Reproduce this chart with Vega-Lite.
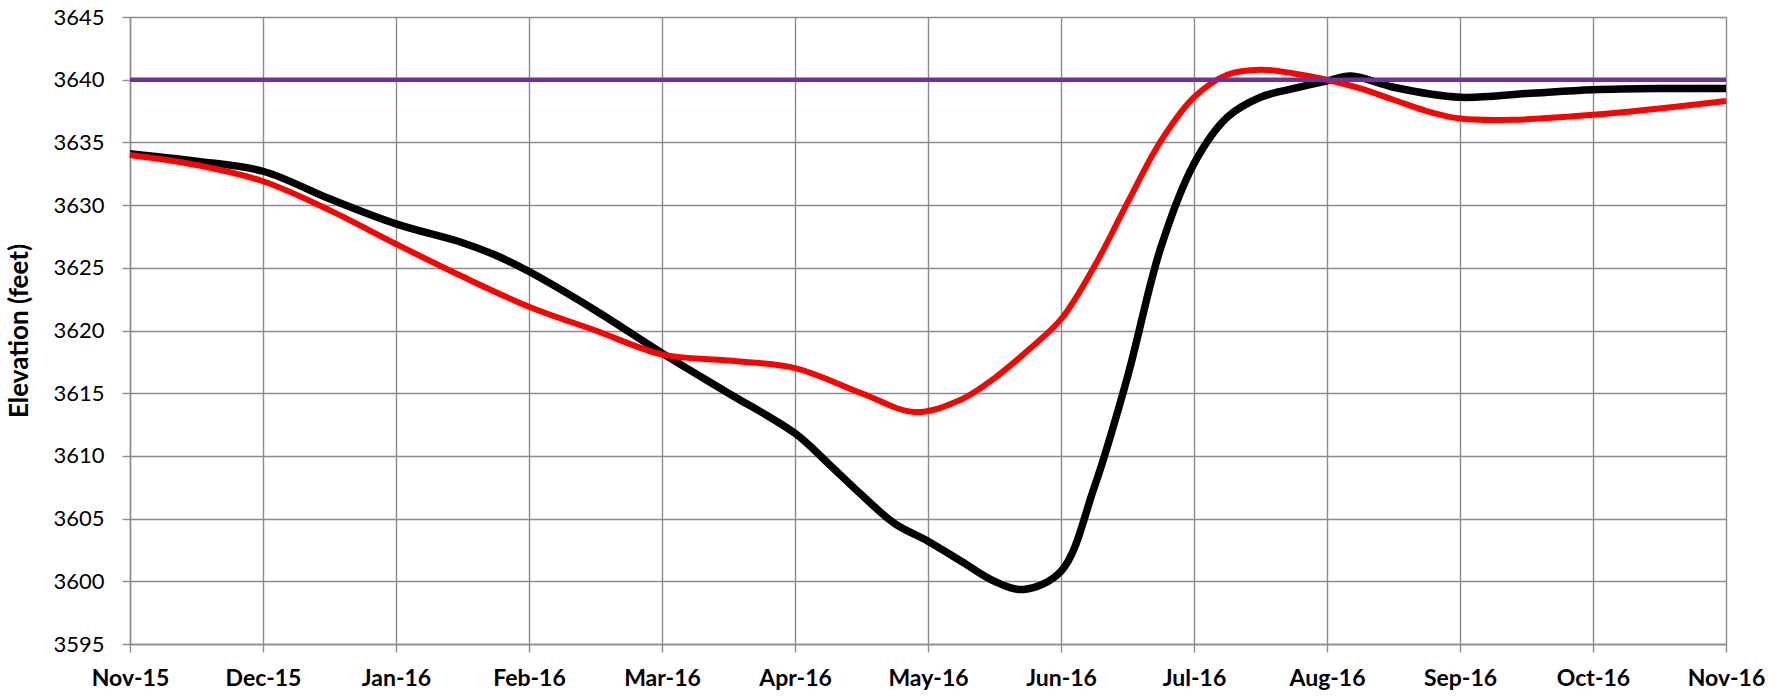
{
  "$schema": "https://vega.github.io/schema/vega-lite/v6.json",
  "autosize": {"type": "none"},
  "padding": {"left": 130, "top": 17, "right": 59, "bottom": 53},
  "width": 1596,
  "height": 627,
  "background": "white",
  "config": {"view": {"stroke": null}, "font": "Lato"},
  "data": {"values": [
    {"s": "Actual", "t": 0, "v": 3634.1},
    {"s": "Actual", "t": 0.5, "v": 3633.5},
    {"s": "Actual", "t": 1, "v": 3632.7},
    {"s": "Actual", "t": 1.5, "v": 3630.5},
    {"s": "Actual", "t": 2, "v": 3628.5},
    {"s": "Actual", "t": 2.5, "v": 3627.0},
    {"s": "Actual", "t": 2.75, "v": 3626.0},
    {"s": "Actual", "t": 3, "v": 3624.7},
    {"s": "Actual", "t": 3.5, "v": 3621.6},
    {"s": "Actual", "t": 4, "v": 3618.2},
    {"s": "Actual", "t": 4.5, "v": 3615.0},
    {"s": "Actual", "t": 5, "v": 3611.8},
    {"s": "Actual", "t": 5.25, "v": 3609.4},
    {"s": "Actual", "t": 5.5, "v": 3606.9},
    {"s": "Actual", "t": 5.75, "v": 3604.6},
    {"s": "Actual", "t": 6, "v": 3603.2},
    {"s": "Actual", "t": 6.25, "v": 3601.6},
    {"s": "Actual", "t": 6.5, "v": 3600.0},
    {"s": "Actual", "t": 6.72, "v": 3599.35},
    {"s": "Actual", "t": 7, "v": 3600.8},
    {"s": "Actual", "t": 7.25, "v": 3607.5},
    {"s": "Actual", "t": 7.5, "v": 3616.3},
    {"s": "Actual", "t": 7.75, "v": 3626.6},
    {"s": "Actual", "t": 8, "v": 3633.3},
    {"s": "Actual", "t": 8.25, "v": 3637.0},
    {"s": "Actual", "t": 8.5, "v": 3638.6},
    {"s": "Actual", "t": 8.75, "v": 3639.3},
    {"s": "Actual", "t": 9, "v": 3639.9},
    {"s": "Actual", "t": 9.18, "v": 3640.3},
    {"s": "Actual", "t": 9.5, "v": 3639.4},
    {"s": "Actual", "t": 10, "v": 3638.6},
    {"s": "Actual", "t": 10.5, "v": 3638.9},
    {"s": "Actual", "t": 11, "v": 3639.2},
    {"s": "Actual", "t": 11.5, "v": 3639.3},
    {"s": "Actual", "t": 12, "v": 3639.3},
    {"s": "Projected", "t": 0, "v": 3634.0},
    {"s": "Projected", "t": 0.5, "v": 3633.2},
    {"s": "Projected", "t": 1, "v": 3631.9},
    {"s": "Projected", "t": 1.5, "v": 3629.6},
    {"s": "Projected", "t": 2, "v": 3626.9},
    {"s": "Projected", "t": 2.5, "v": 3624.3},
    {"s": "Projected", "t": 3, "v": 3621.9},
    {"s": "Projected", "t": 3.5, "v": 3620.0},
    {"s": "Projected", "t": 4, "v": 3618.1},
    {"s": "Projected", "t": 4.5, "v": 3617.6},
    {"s": "Projected", "t": 5, "v": 3617.0},
    {"s": "Projected", "t": 5.5, "v": 3615.0},
    {"s": "Projected", "t": 5.9, "v": 3613.5},
    {"s": "Projected", "t": 6.25, "v": 3614.5},
    {"s": "Projected", "t": 6.5, "v": 3616.2},
    {"s": "Projected", "t": 6.75, "v": 3618.4},
    {"s": "Projected", "t": 7, "v": 3620.9},
    {"s": "Projected", "t": 7.25, "v": 3625.1},
    {"s": "Projected", "t": 7.5, "v": 3630.2},
    {"s": "Projected", "t": 7.75, "v": 3635.1},
    {"s": "Projected", "t": 8, "v": 3638.6},
    {"s": "Projected", "t": 8.25, "v": 3640.4},
    {"s": "Projected", "t": 8.5, "v": 3640.8},
    {"s": "Projected", "t": 8.75, "v": 3640.5},
    {"s": "Projected", "t": 9, "v": 3640.0},
    {"s": "Projected", "t": 9.25, "v": 3639.3},
    {"s": "Projected", "t": 9.5, "v": 3638.4},
    {"s": "Projected", "t": 9.75, "v": 3637.5},
    {"s": "Projected", "t": 10, "v": 3636.9},
    {"s": "Projected", "t": 10.4, "v": 3636.8},
    {"s": "Projected", "t": 11, "v": 3637.2},
    {"s": "Projected", "t": 11.5, "v": 3637.7},
    {"s": "Projected", "t": 12, "v": 3638.3},
    {"s": "Target", "t": 0, "v": 3640},
    {"s": "Target", "t": 12, "v": 3640}
  ]},
  "mark": {"type": "line", "interpolate": "catmull-rom", "strokeCap": "butt", "strokeJoin": "round"},
  "encoding": {
    "x": {
      "field": "t", "type": "quantitative",
      "scale": {"domain": [0, 12], "nice": false, "zero": false},
      "axis": {
        "title": null,
        "values": [0,1,2,3,4,5,6,7,8,9,10,11,12],
        "labelExpr": "['Nov-15','Dec-15','Jan-16','Feb-16','Mar-16','Apr-16','May-16','Jun-16','Jul-16','Aug-16','Sep-16','Oct-16','Nov-16'][datum.value]",
        "labelFont": "Lato", "labelFontSize": 23, "labelFontWeight": "bold", "labelColor": "#000000",
        "labelPadding": 15, "labelFlush": false, "labelOverlap": false,
        "grid": true, "gridColor": "#8c8c8c", "gridWidth": 1.4,
        "domainColor": "#8c8c8c", "domainWidth": 1.4,
        "ticks": true, "tickColor": "#8c8c8c", "tickWidth": 1.4, "tickSize": 8
      }
    },
    "y": {
      "field": "v", "type": "quantitative",
      "scale": {"domain": [3595, 3645], "nice": false, "zero": false},
      "axis": {
        "title": "Elevation (feet)",
        "titleFont": "Lato", "titleFontSize": 26, "titleFontWeight": "bold", "titleColor": "#000000",
        "titlePadding": 20,
        "values": [3595,3600,3605,3610,3615,3620,3625,3630,3635,3640,3645],
        "format": "d",
        "labelFont": "Lato", "labelFontSize": 22, "labelColor": "#000000",
        "labelPadding": 18,
        "grid": true, "gridColor": "#8c8c8c", "gridWidth": 1.4,
        "domainColor": "#8c8c8c", "domainWidth": 1.4,
        "ticks": true, "tickColor": "#8c8c8c", "tickWidth": 1.4, "tickSize": 8
      }
    },
    "color": {
      "field": "s", "type": "nominal", "legend": null,
      "scale": {"domain": ["Actual", "Projected", "Target"], "range": ["#000000", "#ff0000", "#7030a0"]}
    },
    "strokeWidth": {
      "field": "s", "type": "nominal", "legend": null,
      "scale": {"domain": ["Actual", "Projected", "Target"], "range": [7.5, 4.5, 4.5]}
    },
    "order": {"field": "t", "type": "quantitative"}
  }
}
